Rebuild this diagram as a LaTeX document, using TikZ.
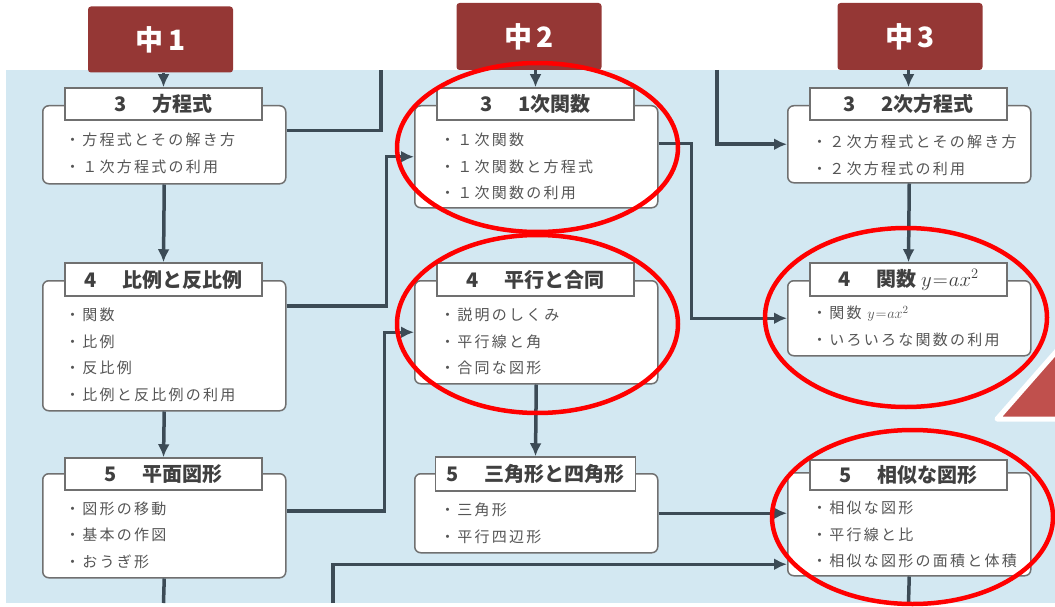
\documentclass[tikz,border=0pt]{standalone}
\usepackage{fontspec}
\setmainfont{Noto Sans CJK JP}
\newfontfamily\itemfont{Noto Sans CJK JP}[LetterSpace=15]
\usetikzlibrary{arrows.meta}

\definecolor{bgblue}{HTML}{D3E8F2}
\definecolor{tabred}{HTML}{953735}
\definecolor{linegray}{HTML}{3C4B56}
\definecolor{boxgray}{HTML}{707070}
\definecolor{txtgray}{HTML}{404040}
\definecolor{itemgray}{HTML}{555555}
\definecolor{ringred}{HTML}{FF0000}
\definecolor{trired}{HTML}{C0504D}

\tikzset{
  gradetab/.style={fill=tabred, rounded corners=3pt, minimum width=145pt, minimum height=66pt,
    text=white, font=\fontsize{28}{28}\selectfont\bfseries},
  bodybox/.style={draw=boxgray, line width=1.5pt, fill=white, rounded corners=6pt,
    minimum width=243pt, anchor=north west},
  ttlbox/.style={draw=boxgray, line width=1.5pt, fill=white, minimum width=197pt,
    minimum height=32pt, inner sep=0pt, text=txtgray, font=\fontsize{20}{20}\selectfont\bfseries},
  itemlist/.style={anchor=north west, align=left, inner sep=0pt, text=itemgray,
    font=\itemfont\fontsize{15}{26.5}\selectfont},
  conn/.style={draw=linegray, line width=3.5pt},
  redring/.style={draw=ringred, line width=4.5pt}
}

\begin{document}
\begin{tikzpicture}[x=1pt, y=-1pt, >={Latex[length=13pt,width=12pt]}]
  \useasboundingbox (0,0) rectangle (1055,607);

  % background
  \fill[bgblue] (6,70) rectangle (1055,603);

  % grade tabs
  \node[gradetab] (tab1) at (160.5,39.5) {中\,1};
  \node[gradetab, minimum height=67pt] (tab2) at (529,36.5) {中\,2};
  \node[gradetab, minimum height=67pt] (tab3) at (910,36.5) {中\,3};

  % column 1
  \node[bodybox, minimum height=78pt] (b11) at (42,105) {};
  \node[ttlbox] (t11) at (163.5,104) {3\hspace{1.3em}方程式};
  \node[itemlist] (i11) at (65,133) {・方程式とその解き方\\・１次方程式の利用};

  \node[bodybox, minimum height=130pt] (b12) at (42,280) {};
  \node[ttlbox, minimum height=33pt] (t12) at (163.5,279.5) {4\hspace{1.3em}比例と反比例};
  \node[itemlist] (i12) at (65,308) {・関数\\・比例\\・反比例\\・比例と反比例の利用};

  \node[bodybox, minimum height=104pt] (b13) at (42,473) {};
  \node[ttlbox] (t13) at (163.5,474) {5\hspace{1.3em}平面図形};
  \node[itemlist] (i13) at (65,501.5) {・図形の移動\\・基本の作図\\・おうぎ形};

  % column 2
  \node[bodybox, minimum height=102pt] (b21) at (414,105) {};
  \node[ttlbox] (t21) at (535.5,104) {3\hspace{1.3em}1次関数};
  \node[itemlist] (i21) at (440,133) {・１次関数\\・１次関数と方程式\\・１次関数の利用};

  \node[bodybox, minimum height=103pt] (b22) at (414,280) {};
  \node[ttlbox, minimum height=33pt] (t22) at (535.5,279.5) {4\hspace{1.3em}平行と合同};
  \node[itemlist] (i22) at (440,308) {・説明のしくみ\\・平行線と角\\・合同な図形};

  \node[bodybox, minimum height=79pt] (b23) at (414,473) {};
  \node[ttlbox, minimum width=200pt, minimum height=34pt] (t23) at (535.5,474) {5\hspace{1.3em}三角形と四角形};
  \node[itemlist] (i23) at (440,503) {・三角形\\・平行四辺形};

  % column 3
  \node[bodybox, minimum height=77pt] (b31) at (787,105) {};
  \node[ttlbox] (t31) at (908.5,104) {3\hspace{1.3em}2次方程式};
  \node[itemlist] (i31) at (812,135) {・２次方程式とその解き方\\・２次方程式の利用};

  \node[bodybox, minimum height=75pt] (b32) at (787,280) {};
  \node[ttlbox, minimum height=33pt] (t32) at (908.5,279.5) {4\hspace{1.3em}関数 $y\mkern1mu{=}\mkern1mu ax^2$};
  \node[itemlist] (i32) at (812,306) {・関数 $y\mkern1mu{=}\mkern1mu ax^2$\\・いろいろな関数の利用};

  \node[bodybox, minimum height=103pt] (b33) at (787,472) {};
  \node[ttlbox, minimum height=30pt] (t33) at (908.5,475) {5\hspace{1.3em}相似な図形};
  \node[itemlist] (i33) at (812,501) {・相似な図形\\・平行線と比\\・相似な図形の面積と体積};

  % loose ends
  \coordinate (up11) at (381,70);
  \coordinate (up31) at (717,70);
  \coordinate (up33) at (333,603);
  \coordinate (dn13) at (163.5,603);
  \coordinate (dn33) at (908.5,603);

  % connectors
  \draw[conn,->] (tab1.south -| t11.north) -- (t11.north);
  \draw[conn,->] (tab2.south -| t21.north) -- (t21.north);
  \draw[conn,->] (tab3.south -| t31.north) -- (t31.north);
  \draw[conn,->] (b11.south) -- (t12.north);
  \draw[conn,->] (b12.south) -- (t13.north);
  \draw[conn] (b13.south) -- (dn13);
  \draw[conn] ([yshift=14pt]b11.east) -| (up11);
  \draw[conn,->] ([yshift=40pt]b12.east) -- ++(100,0) |- (b21.west);
  \draw[conn,->] ([yshift=15pt]b13.east) -- ++(98,0) |- (b22.west);
  \draw[conn,->] (up33) |- ([yshift=-40pt]b33.west);
  \draw[conn,->] (b22.south) -- (t23.north);
  \draw[conn,->] ([yshift=13pt]b21.east) -- ++(33,0) |- (b32.west);
  \draw[conn,->] (b23.east) -- (b23.east -| b33.west);
  \draw[conn,->] (up31) |- (b31.west);
  \draw[conn,->] (b31.south) -- (t32.north);
  \draw[conn] (b33.south) -- (dn33);

  % red marks
  \draw[redring] (537.5,147.5) ellipse [x radius=140.5pt, y radius=84.5pt];
  \draw[redring] (537.5,324) ellipse [x radius=140.5pt, y radius=89pt];
  \draw[redring] (906,317.5) ellipse [x radius=141pt, y radius=89.5pt];
  \draw[redring] (912.5,517) ellipse [x radius=140.5pt, y radius=87pt];

  % pointer at the right edge
  \begin{scope}
    \clip (0,0) rectangle (1055,607);
    \filldraw[fill=trired, draw=white, line width=5pt, line join=round]
      (997,419) -- (1090,313) -- (1090,419) -- cycle;
  \end{scope}
\end{tikzpicture}
\end{document}
